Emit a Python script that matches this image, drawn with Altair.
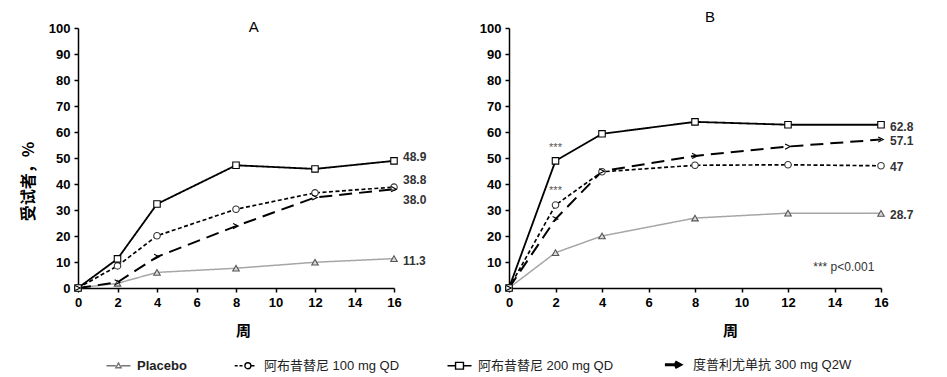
import altair as alt
import pandas as pd

# ---------------- data ----------------
WEEKS = [0, 2, 4, 8, 12, 16]
GROUPS = ["Placebo", "阿布昔替尼 100 mg QD", "阿布昔替尼 200 mg QD", "度普利尤单抗 300 mg Q2W"]

A_PLACEBO = [0, 1.8, 6.0, 7.6, 9.9, 11.3]
A_ABRO100 = [0, 8.5, 20.1, 30.3, 36.6, 38.8]
A_ABRO200 = [0, 11.2, 32.3, 47.2, 45.8, 48.9]
A_DUPI = [0, 2.2, 12.0, 23.8, 34.8, 38.0]

B_PLACEBO = [0, 13.6, 20.0, 26.9, 28.8, 28.7]
B_ABRO100 = [0, 31.9, 44.7, 47.2, 47.4, 47.0]
B_ABRO200 = [0, 48.9, 59.3, 63.9, 62.8, 62.8]
B_DUPI = [0, 26.5, 44.9, 50.8, 54.4, 57.1]

A_END_LABELS = ["11.3", "38.8", "48.9", "38.0"]
A_END_LABEL_Y = [10.5, 41.5, 50.5, 34.0]
B_END_LABELS = ["28.7", "47", "62.8", "57.1"]
B_END_LABEL_Y = [28.2, 46.5, 62.1, 56.6]

PANEL_TITLES = ["A", "B"]
PANEL_TITLE_X = [8.9, 8.65]
PANEL_TITLE_Y = [100.3, 104.2]
SIG_TEXT = ["***", "***"]
SIG_X = [2, 2]
SIG_Y = [53.8, 37.2]
PVAL_TEXT = ["*** p<0.001"]
PVAL_X = [14.4]
PVAL_Y = [8.0]

X_TICKS = list(range(0, 17, 2))
Y_TICKS = list(range(0, 101, 10))

# ---------------- styles ----------------
LINE_COLORS = ["#a6a6a6", "black", "black", "black"]
LINE_DASH = [[1, 0], [4, 2.5], [1, 0], [13, 7]]
LINE_WIDTH = [1.5, 2, 1.5, 3]
PT_SHAPES = ["triangle-up", "circle", "square", "M-0.9,-0.8L0.7,0L-0.9,0.8"]
PT_STROKE = ["#555555", "#333333", "black", "black"]
PT_FILL = ["#d9d9d9", "white", "white", "transparent"]
LEG_SHAPES = [
    "M-1,0H-0.22M0.22,0H1M-0.22,0.17L0,-0.23L0.22,0.17Z",
    "M-0.9,0H-0.65M-0.5,0H-0.25M-0.05,0A0.25,0.25 0 1,1 0.45,0A0.25,0.25 0 1,1 -0.05,0M0.45,0H0.75",
    "M-1,0H-0.33M0.33,0H1M-0.33,-0.28H0.33V0.28H-0.33Z",
    "M-0.8,0H0.3M0.05,-0.25L0.5,0L0.05,0.25",
]

FONT = "Liberation Sans"
CJK = "Noto Sans CJK SC"


def series_df(series):
    rows = []
    for g, vals in zip(GROUPS, series):
        for w, v in zip(WEEKS, vals):
            rows.append({"week": w, "value": v, "group": g})
    return pd.DataFrame(rows)


def panel(series, end_labels, end_y, title, tx, ty, width, height, ytitle, xtitle_x,
          extra_layers=None, with_legend=False):
    df = series_df(series)
    xs = alt.Scale(domain=[0, 16], nice=False)
    ys = alt.Scale(domain=[0, 100], nice=False)
    xax = alt.Axis(values=X_TICKS, title="周", titleX=xtitle_x, titlePadding=14,
                   titleFontSize=15, labelFlush=False, labelOverlap=False)
    if ytitle:
        yax = alt.Axis(values=Y_TICKS, title=ytitle, titleY=153, titlePadding=12,
                       titleFontSize=16, labelOverlap=False)
    else:
        yax = alt.Axis(values=Y_TICKS, title=None, labelOverlap=False)

    def X(field):
        return alt.X(field, scale=xs, axis=xax)

    def Y(field):
        return alt.Y(field, scale=ys, axis=yax)

    base = alt.Chart(df).encode(x=X("week:Q"), y=Y("value:Q"))
    lines = base.mark_line().encode(
        color=alt.Color("group:N", scale=alt.Scale(domain=GROUPS, range=LINE_COLORS), legend=None),
        strokeDash=alt.StrokeDash("group:N", scale=alt.Scale(domain=GROUPS, range=LINE_DASH), legend=None),
        strokeWidth=alt.StrokeWidth("group:N", scale=alt.Scale(domain=GROUPS, range=LINE_WIDTH), legend=None),
    )
    pts = base.mark_point(filled=True, size=42, strokeWidth=1.1, opacity=1).encode(
        shape=alt.Shape("group:N", scale=alt.Scale(domain=GROUPS, range=PT_SHAPES), legend=None),
        stroke=alt.Stroke("group:N", scale=alt.Scale(domain=GROUPS, range=PT_STROKE), legend=None),
        fill=alt.Fill("group:N", scale=alt.Scale(domain=GROUPS, range=PT_FILL), legend=None),
    )
    lab_df = pd.DataFrame({"week": [16] * len(end_labels), "value": end_y, "text": end_labels})
    labs = alt.Chart(lab_df).mark_text(
        align="left", baseline="middle", dx=9, font=FONT, fontSize=12,
        fontWeight="bold", color="#333333"
    ).encode(x=X("week:Q"), y=Y("value:Q"), text="text:N")
    t_df = pd.DataFrame({"week": [tx], "value": [ty], "text": [title]})
    ttl = alt.Chart(t_df).mark_text(
        align="center", baseline="middle", font=FONT, fontSize=15, color="black"
    ).encode(x=X("week:Q"), y=Y("value:Q"), text="text:N")
    layers = [lines, pts, labs, ttl]
    if extra_layers:
        layers += [l(X, Y) for l in extra_layers]
    if with_legend:
        leg = base.mark_point(opacity=0, filled=False).encode(
            shape=alt.Shape(
                "group:N",
                scale=alt.Scale(domain=GROUPS, range=LEG_SHAPES),
                legend=alt.Legend(
                    title=None, orient="none", legendX=34, legendY=330,
                    direction="horizontal", symbolSize=576, symbolOpacity=1,
                    symbolStrokeWidth=alt.ExprRef(
                        expr="datum.value === '度普利尤单抗 300 mg Q2W' ? 3 : 1.4"),
                    symbolStrokeColor=alt.ExprRef(
                        expr="datum.value === 'Placebo' ? '#777777' : 'black'"),
                    labelFont="Liberation Sans, Noto Sans CJK SC",
                    labelFontSize=13,
                    labelFontWeight=alt.ExprRef(
                        expr="datum.value === 'Placebo' ? 'bold' : 'normal'"),
                    labelColor="#222222", labelOffset=12, labelLimit=300,
                    columnPadding=44, padding=0,
                ),
            )
        ).transform_filter(alt.datum.week == 16)
        layers.append(leg)
    return alt.layer(*layers).resolve_scale(shape="independent").properties(
        width=width, height=height)


def sig_layer(X, Y):
    d = pd.DataFrame({"week": SIG_X, "value": SIG_Y, "text": SIG_TEXT})
    return alt.Chart(d).mark_text(
        align="center", baseline="middle", font=FONT, fontSize=11, color="#555555"
    ).encode(x=X("week:Q"), y=Y("value:Q"), text="text:N")


def pval_layer(X, Y):
    d = pd.DataFrame({"week": PVAL_X, "value": PVAL_Y, "text": PVAL_TEXT})
    return alt.Chart(d).mark_text(
        align="center", baseline="middle", font=FONT, fontSize=12, color="#333333"
    ).encode(x=X("week:Q"), y=Y("value:Q"), text="text:N")


panel_a = panel([A_PLACEBO, A_ABRO100, A_ABRO200, A_DUPI], A_END_LABELS, A_END_LABEL_Y,
                PANEL_TITLES[0], PANEL_TITLE_X[0], PANEL_TITLE_Y[0], 316, 260,
                "受试者，%", 165, with_legend=True)
panel_b = panel([B_PLACEBO, B_ABRO100, B_ABRO200, B_DUPI], B_END_LABELS, B_END_LABEL_Y,
                PANEL_TITLES[1], PANEL_TITLE_X[1], PANEL_TITLE_Y[1], 372, 260,
                None, 221, extra_layers=[sig_layer, pval_layer])

chart = alt.hconcat(panel_a, panel_b, spacing=115, bounds="flush").properties(
    padding={"left": 12, "top": 2, "right": 5, "bottom": 2},
    background="white",
).configure_axis(
    domainColor="black", domainWidth=1.5, tickColor="black", tickWidth=1.5, tickSize=4,
    labelFont=FONT, labelFontSize=13, labelFontWeight="bold", labelColor="black",
    labelPadding=4, grid=False, titleFont=CJK, titleFontWeight="bold", titleColor="black",
).configure_view(stroke=None)

chart.save("out.html", embed_options={"renderer": "svg", "actions": False})
